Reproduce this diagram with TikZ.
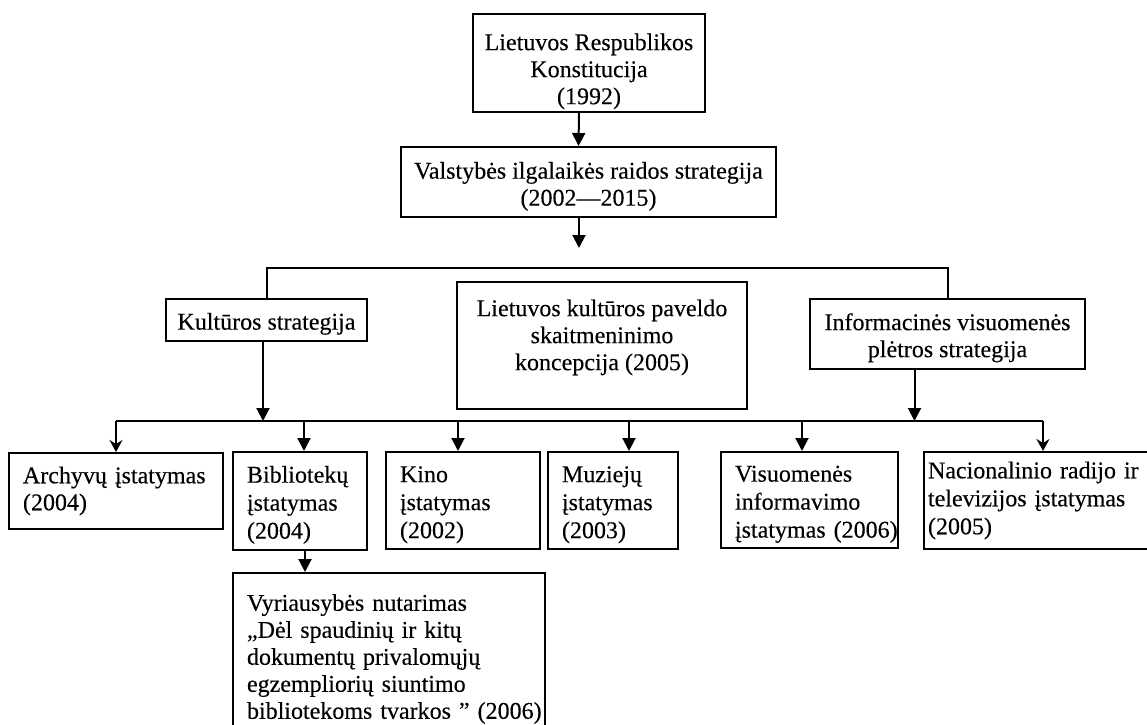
\documentclass[tikz,border=0pt]{standalone}
\usepackage{fontspec}
\setmainfont{Liberation Serif}[UprightFeatures={FakeBold=0.25}]
\usetikzlibrary{arrows.meta}
\newcommand\tp[1]{\rule{0pt}{#1}}
\begin{document}
\begin{tikzpicture}[x=0.5pt,y=-0.5pt,
  box/.style={draw, line width=1pt, inner sep=0pt, font=\fontsize{12}{13.5}\selectfont},
  cbox/.style={box, align=center},
  lbox/.style={box, align=left},
  lboxw/.style={box, align=left, font=\fontsize{12}{14}\selectfont},
  ln/.style={line width=1pt},
  arr/.style={line width=1pt, -{Triangle[length=6.5pt,width=6.5pt]}},
  arrthin/.style={line width=1pt, -{Stealth[length=6pt,width=6.5pt,inset=2pt]}}]
\useasboundingbox (0,0) rectangle (1147,724);
\clip (0,0) rectangle (1147,724);
% top levels
\node[cbox, minimum width=116pt, minimum height=49pt] (T) at (589,63) {\tp{16.7pt}Lietuvos Respublikos\\Konstitucija\\(1992)};
\node[cbox, minimum width=187.5pt, minimum height=35pt] (V) at (588.5,182) {\tp{12.7pt}Valstybės ilgalaikės raidos strategija\\(2002—2015)};
% middle row
\node[cbox, minimum width=100.5pt, minimum height=21pt] (K) at (266.5,320) {\tp{12.2pt}Kultūros strategija};
\node[cbox, minimum width=145pt, minimum height=63.5pt] (L) at (602,345.5) {\tp{15.2pt}Lietuvos kultūros paveldo\\skaitmeninimo\\koncepcija (2005)\\\strut};
\node[cbox, minimum width=137.5pt, minimum height=35pt] (I) at (947.5,334) {\tp{12.2pt}Informacinės visuomenės\\plėtros strategija};
% bottom row
\node[lbox, minimum width=107pt, text width=93pt, minimum height=38pt] (A) at (116,491) {Archyvų~įstatymas\\(2004)};
\node[lboxw, minimum width=67pt, text width=53pt, minimum height=49pt] (B) at (300,501) {\tp{12.2pt}Bibliotekų\\įstatymas\\(2004)};
\node[lboxw, minimum width=77pt, text width=63pt, minimum height=48.5pt] (Ki) at (463,500.5) {\tp{12.2pt}Kino\\įstatymas\\(2002)};
\node[lboxw, minimum width=65pt, text width=51pt, minimum height=48.5pt] (M) at (613,500.5) {\tp{12.2pt}Muziejų\\įstatymas\\(2003)};
\node[lboxw, minimum width=88.5pt, text width=74.5pt, minimum height=48pt] (Vi) at (809.5,500) {\tp{12.2pt}Visuomenės\\informavimo\\įstatymas~(2006)};
\node[lboxw, minimum width=120pt, text width=116pt, minimum height=48.5pt] (N) at (1044,500.5) {Nacionalinio~radijo~ir\\televizijos~įstatymas\\(2005)};
\node[lbox, minimum width=156pt, text width=142pt, minimum height=86pt] (G) at (389,659) {Vyriausybės~nutarimas\\„Dėl~spaudinių~ir~kitų\\dokumentų~privalomųjų\\egzempliorių~siuntimo\\bibliotekoms~tvarkos~”~(2006)};
% connectors
\draw[arr] ([xshift=-5pt]T.south) -- ([xshift=-5pt]V.north);
\coordinate (vend) at (579,248);
\draw[arr] (V.south -| vend) -- (vend);
\coordinate (tl) at (600,268);
\draw[ln] (K.north) |- (tl) -| (I.north);
\coordinate (bA) at (116,421);
\coordinate (bB) at (304,421);
\coordinate (bKi) at (458,421);
\coordinate (bM) at (629,421);
\coordinate (bVi) at (802,421);
\coordinate (bN) at (1043,421);
\draw[arr] ([xshift=-1.75pt]K.south) -- ([xshift=-1.75pt]K.south |- bA);
\draw[arr] ([xshift=-16.5pt]I.south) -- ([xshift=-16.5pt]I.south |- bA);
\draw[ln] (bA) -- (bN);
\draw[arrthin] (bA) -- (bA |- A.north);
\draw[arr] (bB) -- (bB |- B.north);
\draw[arr] (bKi) -- (bKi |- Ki.north);
\draw[arr] (bM) -- (bM |- M.north);
\draw[arr] (bVi) -- (bVi |- Vi.north);
\draw[arrthin] (bN) -- (bN |- N.north);
\draw[arr] ([xshift=2.5pt]B.south) -- ([xshift=2.5pt]B.south |- G.north);
\end{tikzpicture}
\end{document}
